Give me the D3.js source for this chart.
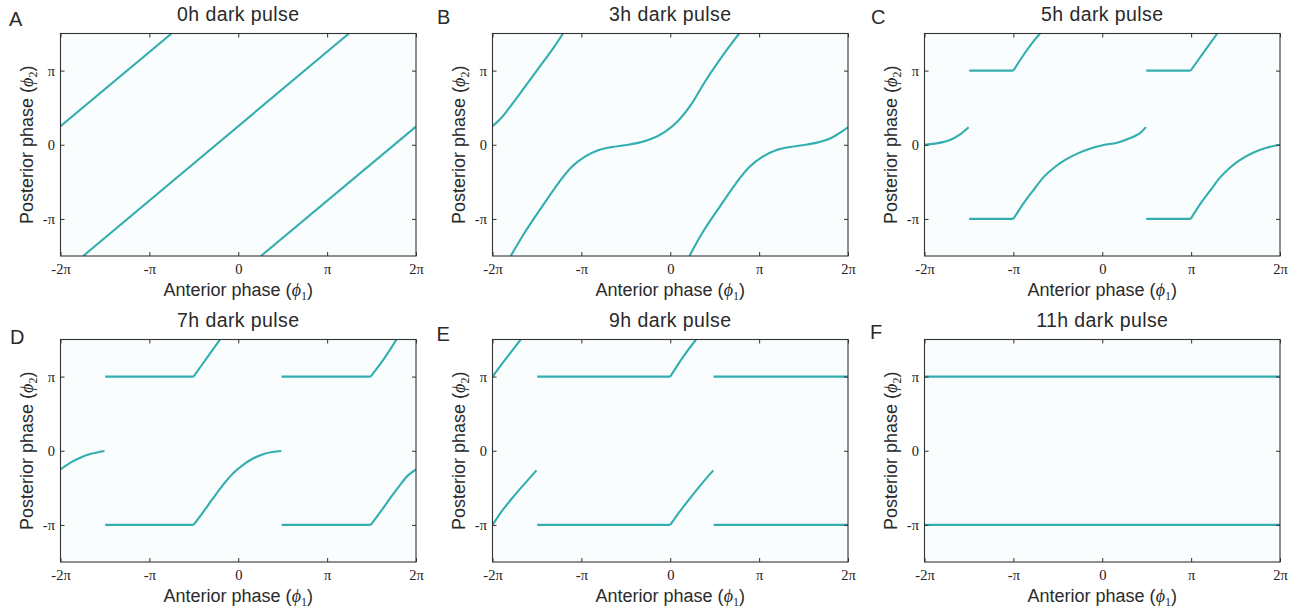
<!DOCTYPE html>
<html>
<head>
<meta charset="utf-8">
<script src="https://cdn.jsdelivr.net/npm/d3@7"></script>
<style>
  body { margin: 0; background: #fff; }
  .title, .label, .letter { font-family: "Liberation Sans", Arial, sans-serif; fill: #2a2a2a; }
  .tick line { stroke: #333; }
</style>
</head>
<body>
<div id="chart"></div>
<script>
// panel texts
const panelTitles = ["0h dark pulse", "3h dark pulse", "5h dark pulse", "7h dark pulse", "9h dark pulse", "11h dark pulse"]
const panelLetters = ["A", "B", "C", "D", "E", "F"]

// ticks, in units of pi
const xTicks = [-2, -1, 0, 1, 2]
const xTickLabels = ["-2\u03c0", "-\u03c0", "0", "\u03c0", "2\u03c0"]
const yTicks = [-1, 0, 1]
const yTickLabels = ["-\u03c0", "0", "\u03c0"]

// curve pieces, [anterior phase, posterior phase] in units of pi
const seg0h = [
	[[-2, 0.25], [-0.75, 1.5]],
	[[-1.745, -1.5], [1.245, 1.5]],
	[[0.255, -1.5], [2, 0.245]]
]
const seg3h = [
	[[-2, 0.25], [-1.91, 0.35], [-1.81, 0.5], [-1.63, 0.79], [-1.44, 1.10], [-1.3, 1.33], [-1.207, 1.5]],
	[[-1.795, -1.5], [-1.63, -1.17], [-1.44, -0.83], [-1.26, -0.52], [-1.11, -0.30], [-0.96, -0.16], [-0.81, -0.075],
	 [-0.66, -0.032], [-0.51, -0.006], [-0.36, 0.025], [-0.21, 0.08], [-0.06, 0.175], [0.09, 0.325], [0.24, 0.55],
	 [0.38, 0.83], [0.53, 1.10], [0.68, 1.35], [0.775, 1.5]],
	[[0.216, -1.5], [0.37, -1.17], [0.56, -0.83], [0.74, -0.52], [0.89, -0.30], [1.04, -0.16], [1.19, -0.075],
	 [1.34, -0.032], [1.49, -0.006], [1.64, 0.025], [1.79, 0.08], [1.92, 0.17], [2.0, 0.235]]
]
const seg5h = [
	[[-2, 0], [-1.85, 0.022], [-1.7, 0.072], [-1.59, 0.148], [-1.503, 0.235]],
	[[-1.497, 1], [-1, 1]],
	[[-1, 1], [-0.88, 1.22], [-0.77, 1.4], [-0.7, 1.5]],
	[[-1.497, -1], [-1, -1]],
	[[-1, -1], [-0.88, -0.78], [-0.767, -0.6], [-0.655, -0.43], [-0.543, -0.31], [-0.431, -0.215], [-0.282, -0.12],
	 [-0.133, -0.05], [0.017, -0.004], [0.166, 0.027], [0.316, 0.09], [0.428, 0.161], [0.491, 0.238]],
	[[0.495, 1], [0.995, 1]],
	[[0.995, 1], [1.137, 1.238], [1.294, 1.5]],
	[[0.495, -1], [0.995, -1]],
	[[0.995, -1], [1.10, -0.803], [1.212, -0.623], [1.324, -0.444], [1.436, -0.309], [1.548, -0.206],
	 [1.697, -0.108], [1.847, -0.04], [2, 0]]
]
const seg7h = [
	[[-2, -0.251], [-1.888, -0.161], [-1.777, -0.094], [-1.665, -0.045], [-1.505, -0.004]],
	[[-1.497, 1], [-0.503, 1]],
	[[-0.503, 1], [-0.361, 1.238], [-0.205, 1.5]],
	[[-1.497, -1], [-0.503, -1]],
	[[-0.503, -1], [-0.399, -0.834], [-0.287, -0.646], [-0.175, -0.466], [-0.063, -0.309], [0.048, -0.197],
	 [0.16, -0.108], [0.272, -0.049], [0.384, -0.018], [0.484, -0.004]],
	[[0.488, 1], [1.49, 1]],
	[[1.49, 1], [1.639, 1.238], [1.78, 1.5]],
	[[0.488, -1], [1.49, -1]],
	[[1.49, -1], [1.594, -0.834], [1.706, -0.646], [1.817, -0.466], [1.911, -0.332], [2, -0.251]]
]
const seg9h = [
	[[-2, 1], [-1.851, 1.238], [-1.683, 1.5]],
	[[-2, -1], [-1.888, -0.803], [-1.777, -0.637], [-1.628, -0.43], [-1.505, -0.265]],
	[[-1.497, 1], [0, 1]],
	[[0, 1], [0.141, 1.26], [0.29, 1.5]],
	[[-1.497, -1], [0, -1]],
	[[0, -1], [0.104, -0.825], [0.235, -0.623], [0.365, -0.43], [0.484, -0.265]],
	[[0.488, 1], [2, 1]],
	[[0.488, -1], [2, -1]]
]
const seg11h = [
	[[-2, 1], [2, 1]],
	[[-2, -1], [2, -1]]
]
const panelSegments = [seg0h, seg3h, seg5h, seg7h, seg9h, seg11h]

// layout
const colLeft = [60.5, 492.5, 924.5]
const rowTop = [33.5, 339.5]
const plotW = 355.5
const plotH = 222.5
const letterPos = [[9, 25.5], [437, 23.5], [871, 24], [10, 344], [436.5, 341], [870, 338.5]]
const curveColor = '#33aeb0'
const serif = '"Liberation Serif", "DejaVu Serif", serif'

const svg = d3.select('#chart').append('svg')
	.attr('width', 1308)
	.attr('height', 609)

panelSegments.forEach((segs, i) => {
	const col = i % 3
	const row = Math.floor(i / 3)
	const left = colLeft[col]
	const top = rowTop[row]

	const x = d3.scaleLinear().domain([-2, 2]).range([0, plotW])
	const y = d3.scaleLinear().domain([-1.5, 1.5]).range([plotH, 0])

	const g = svg.append('g').attr('transform', 'translate(' + left + ',' + top + ')')

	g.append('rect')
		.attr('width', plotW)
		.attr('height', plotH)
		.attr('fill', '#fafdfd')

	g.append('clipPath').attr('id', 'clip' + i)
		.append('rect').attr('width', plotW).attr('height', plotH)

	const line = d3.line()
		.x(d => x(d[0]))
		.y(d => y(d[1]))
		.curve(d3.curveCatmullRom.alpha(0.5))

	g.append('g')
		.attr('clip-path', 'url(#clip' + i + ')')
		.selectAll('path')
		.data(segs)
		.join('path')
			.attr('d', line)
			.attr('fill', 'none')
			.attr('stroke', curveColor)
			.attr('stroke-width', 2.1)

	// axes with inward ticks on all four sides
	const bottom = g.append('g').attr('transform', 'translate(0,' + plotH + ')')
		.call(d3.axisBottom(x).tickValues(xTicks).tickSizeInner(-4).tickSizeOuter(0).tickPadding(8)
			.tickFormat((d, k) => xTickLabels[k]))
	const topAx = g.append('g')
		.call(d3.axisTop(x).tickValues(xTicks).tickSizeInner(-4).tickSizeOuter(0).tickFormat(''))
	const leftAx = g.append('g')
		.call(d3.axisLeft(y).tickValues(yTicks).tickSizeInner(-4).tickSizeOuter(0).tickPadding(5.5)
			.tickFormat((d, k) => yTickLabels[k]))
	const rightAx = g.append('g').attr('transform', 'translate(' + plotW + ',0)')
		.call(d3.axisRight(y).tickValues(yTicks).tickSizeInner(-4).tickSizeOuter(0).tickFormat(''))
	;[bottom, topAx, leftAx, rightAx].forEach(a => {
		a.select('.domain').remove()
		a.selectAll('text')
			.style('font-family', serif)
			.style('font-size', '14.5px')
			.attr('fill', '#222')
	})

	g.append('rect')
		.attr('width', plotW)
		.attr('height', plotH)
		.attr('fill', 'none')
		.attr('stroke', '#333')
		.attr('stroke-width', 1.1)

	// title
	svg.append('text')
		.attr('class', 'title')
		.attr('x', left + plotW / 2)
		.attr('y', top - 12.6)
		.attr('text-anchor', 'middle')
		.style('font-size', '19.5px')
		.style('letter-spacing', '0.4px')
		.text(panelTitles[i])

	// x label
	const xl = svg.append('text')
		.attr('class', 'label')
		.attr('x', left + plotW / 2)
		.attr('y', top + plotH + 40)
		.attr('text-anchor', 'middle')
		.style('font-size', '18px')
	xl.append('tspan').text('Anterior phase (')
	xl.append('tspan').style('font-family', serif).style('font-style', 'italic').text('\u03d5')
	xl.append('tspan').style('font-family', serif).style('font-size', '12px').attr('dy', 4).text('1')
	xl.append('tspan').attr('dy', -4).text(')')

	// y label
	const yl = svg.append('text')
		.attr('class', 'label')
		.attr('transform', 'translate(' + (left - 28) + ',' + (top + plotH / 2) + ') rotate(-90)')
		.attr('text-anchor', 'middle')
		.style('font-size', '18px')
	yl.append('tspan').text('Posterior phase (')
	yl.append('tspan').style('font-family', serif).style('font-style', 'italic').text('\u03d5')
	yl.append('tspan').style('font-family', serif).style('font-size', '12px').attr('dy', 4).text('2')
	yl.append('tspan').attr('dy', -4).text(')')

	// panel letter
	svg.append('text')
		.attr('class', 'letter')
		.attr('x', letterPos[i][0])
		.attr('y', letterPos[i][1])
		.style('font-size', '20px')
		.text(panelLetters[i])
})
</script>
</body>
</html>
